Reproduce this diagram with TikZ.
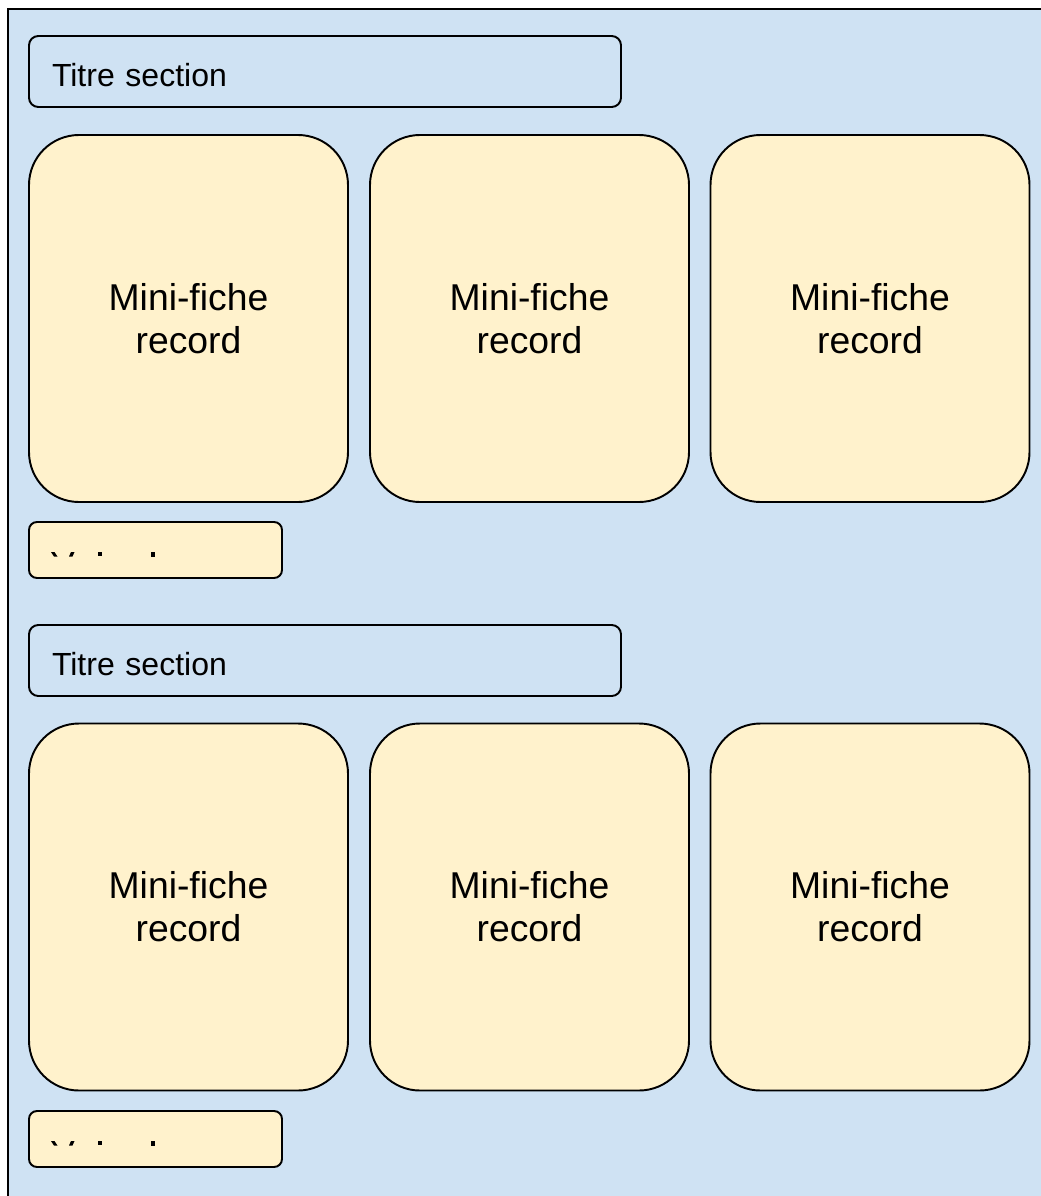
\documentclass[tikz,border=0pt]{standalone}
\usepackage{fontspec}
\setmainfont{Liberation Sans}
\definecolor{panelblue}{HTML}{CFE2F3}
\definecolor{cardyellow}{HTML}{FFF2CC}
\newcommand{\lowered}[1]{\raisebox{-3pt}[\height][\depth]{#1}}
\begin{document}
\begin{tikzpicture}[x=0.75pt,y=-0.75pt,
  outline/.style={draw=black, line width=1.45pt, inner sep=0pt, outer sep=0pt},
  card/.style={outline, fill=cardyellow, rounded corners=37.5pt,
    minimum width=239.25pt, minimum height=275.25pt, align=center,
    font=\fontsize{28}{32.3}\selectfont},
  heading/.style={outline, fill=panelblue, rounded corners=7pt, anchor=north west,
    text width=409.5pt, inner xsep=17.25pt, minimum height=53.25pt, align=left,
    font=\fontsize{24}{28}\selectfont},
  footer/.style={outline, fill=cardyellow, rounded corners=6pt, anchor=north west,
    minimum width=189.75pt, minimum height=42pt},
  glyphbits/.pic={
    \fill (22,30) -- (25.5,30) -- (28.5,34.5) -- (25,34.5) -- cycle;
    \fill (42,30) -- (45.5,30) -- (43.5,34.5) -- (40,34.5) -- cycle;
    \fill (68.5,30) rectangle (72.5,34);
    \fill (121.5,30) rectangle (125.5,35);
  }]
  \useasboundingbox (0,0) rectangle (1041,1196);
  \clip (0,0) rectangle (1041,1196);
  % background panel, running off the right and bottom edges
  \draw[fill=panelblue, line width=1.45pt] (8,9) rectangle (1070,1230);

  % first section
  \node[heading] (title1) at (29,36) {\lowered{Titre section}};
  \node[card] (card11) at (188.5,318.5) {Mini-fiche\\record};
  \node[card] (card12) at (529.5,318.5) {Mini-fiche\\record};
  \node[card] (card13) at (870,318.5) {Mini-fiche\\record};
  \node[footer] (foot1) at (29,522) {};
  \pic at (foot1.north west) {glyphbits};

  % second section
  \node[heading] (title2) at (29,625) {\lowered{Titre section}};
  \node[card] (card21) at (188.5,907) {Mini-fiche\\record};
  \node[card] (card22) at (529.5,907) {Mini-fiche\\record};
  \node[card] (card23) at (870,907) {Mini-fiche\\record};
  \node[footer] (foot2) at (29,1111) {};
  \pic at (foot2.north west) {glyphbits};
\end{tikzpicture}
\end{document}
